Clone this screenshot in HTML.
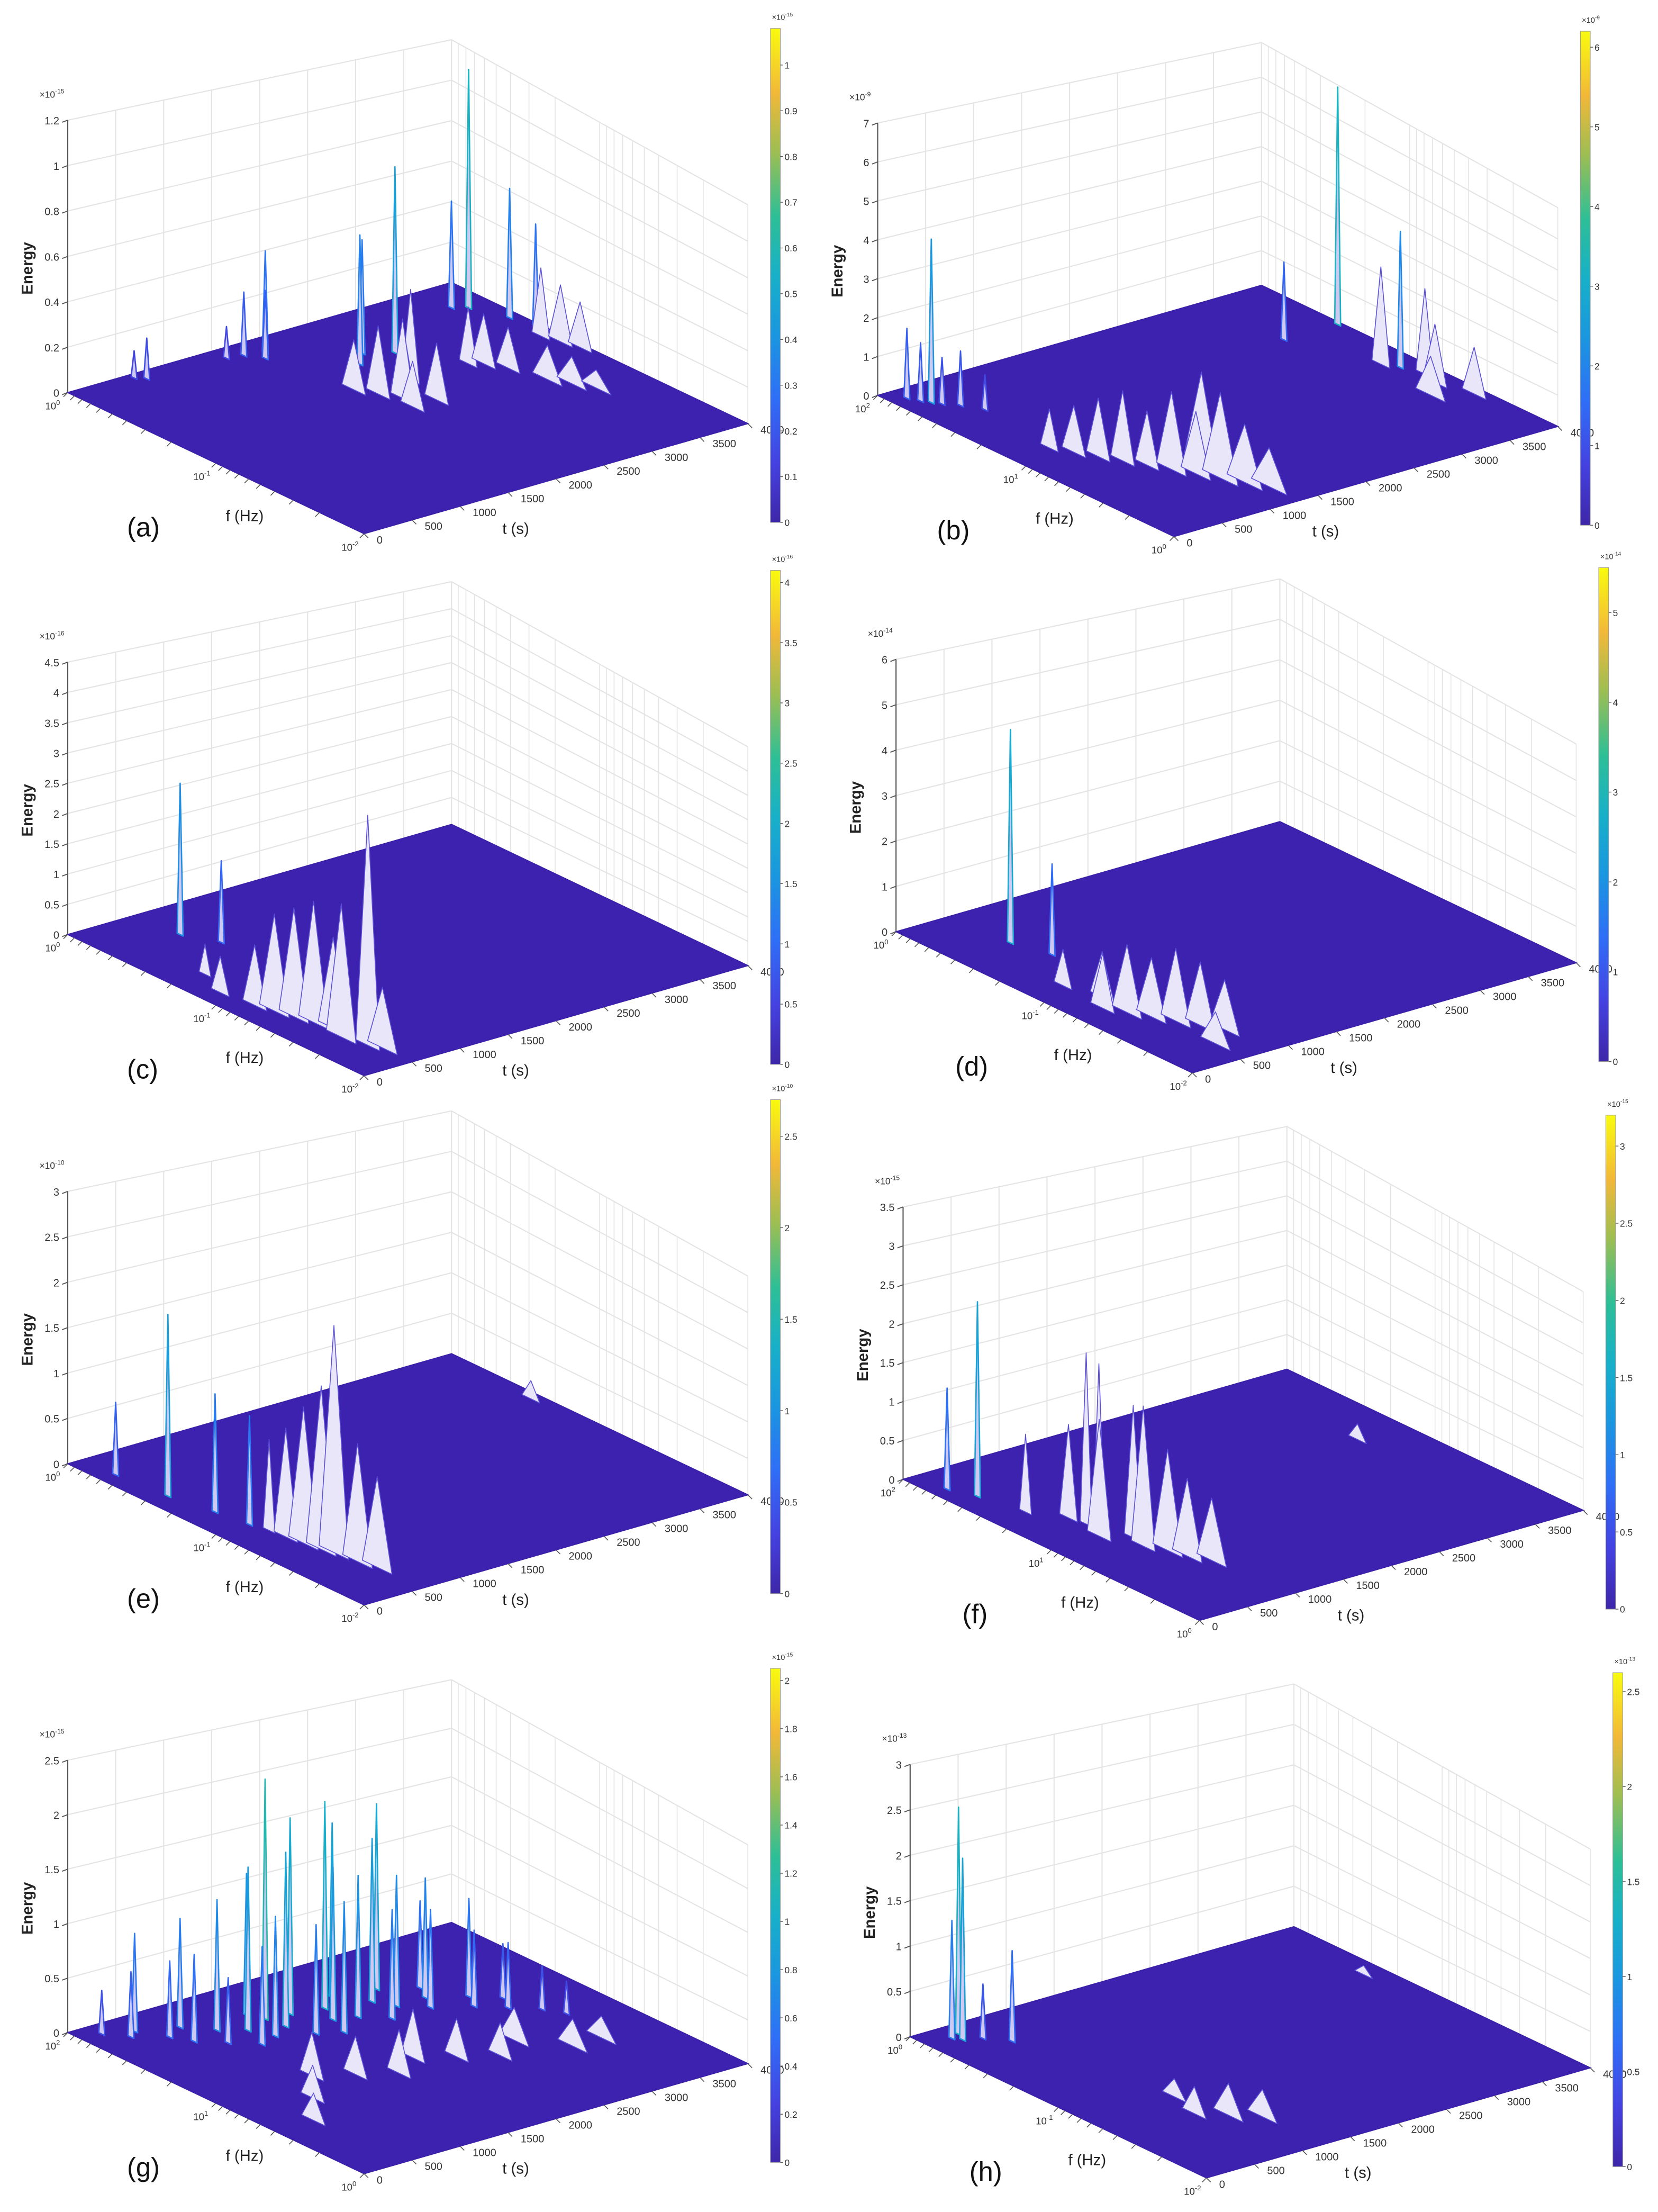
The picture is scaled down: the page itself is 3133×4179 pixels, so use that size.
<!DOCTYPE html>
<html><head><meta charset="utf-8"><title>Energy time-frequency surfaces</title>
<style>
html,body{margin:0;padding:0;background:#fff;}
svg{display:block;}
text{font-family:"Liberation Sans",sans-serif;}
</style></head>
<body>
<svg id="fig" xmlns="http://www.w3.org/2000/svg" width="3133" height="4179" viewBox="0 0 1175 1567">
<defs>
<linearGradient id="parula" x1="0" y1="1" x2="0" y2="0">
<stop offset="0" stop-color="#3e26a8"/><stop offset="0.12" stop-color="#4441e0"/>
<stop offset="0.25" stop-color="#2f6ef7"/><stop offset="0.38" stop-color="#1a97e0"/>
<stop offset="0.5" stop-color="#17b0c8"/><stop offset="0.62" stop-color="#2dbf96"/>
<stop offset="0.75" stop-color="#9dbe52"/><stop offset="0.87" stop-color="#f2b838"/>
<stop offset="1" stop-color="#f9fb0e"/>
</linearGradient>
</defs>
</svg>
<script>
// ---- data (t in s, f as log-fraction from first decade edge, E in axis units, W base width) ----
const panelIds = ['a','b','c','d','e','f','g','h'];
const zMaxes = [1.2, 7, 4.5, 6, 3, 3.5, 2.5, 3];
const zSteps = [0.2, 1, 0.5, 1, 0.5, 0.5, 0.5, 0.5];
const zExps = ['-15','-9','-16','-14','-10','-15','-15','-13'];
const cbMaxes = [1.08, 6.2, 4.1, 5.5, 2.7, 3.2, 2.05, 2.6];
const cbSteps = [0.1, 1, 0.5, 1, 0.5, 0.5, 0.2, 0.5];
const fDecades = [['0','-1','-2'],['2','1','0'],['0','-1','-2'],['0','-1','-2'],['0','-1','-2'],['2','1','0'],['2','1','0'],['0','-1','-2']];
const tTicks = [0,500,1000,1500,2000,2500,3000,3500,4000];

const spikeT = {
 a:[630,700,1824,1500,1650,1750,2285,2669,2450,3653,3764,3895,3950,2000,2100,2200,2050,2300,2400,1900,3100,3200,3000,3300,3400,3500,3850,3900,3950],
 b:[150,250,200,300,400,500,3400,3960,3780,3700,3850,3800,3600,3900,500,600,700,800,900,1000,1100,1200,1300,400,1150],
 c:[730,890,440,300,350,400,450,380,250,200,500,350],
 d:[590,700,300,400,500,600,700,800,450,350,550],
 e:[160,210,300,350,400,520,450,480,550,600,420,3900],
 f:[150,250,350,580,620,700,500,650,750,800,550,900,3500],
 g:[200,350,450,1470,600,700,800,900,1000,1100,1200,1300,1400,1500,1600,1700,1800,1900,2000,2100,2200,2300,2400,2500,2600,2700,2800,2900,3000,3100,3200,3300,3400,3500,1000,1300,1600,1900,2200,2500,2800,3100,3400,700,400],
 h:[300,350,250,600,450,800,1000,1200,900,3800]
};
const spikeF = {
 a:[.02,.04,.076,.05,.06,.10,.246,.24,.2,.112,.134,.23,.3,.40,.45,.42,.5,.5,.38,.35,.4,.45,.38,.55,.6,.65,.35,.4,.45],
 b:[.05,.1,.08,.12,.15,.2,.27,.27,.54,.5,.6,.65,.7,.75,.5,.55,.6,.65,.7,.75,.8,.85,.9,.45,.72],
 c:[.143,.23,.87,.6,.65,.7,.75,.8,.55,.45,.9,.35],
 d:[.195,.3,.6,.65,.7,.75,.8,.85,.55,.45,.9],
 e:[.11,.27,.4,.5,.55,.73,.65,.7,.8,.85,.6,.3],
 f:[.1,.17,.3,.43,.46,.55,.5,.6,.65,.7,.38,.75,.4],
 g:[.05,.1,.08,.19,.15,.2,.12,.25,.18,.3,.22,.28,.15,.25,.32,.2,.35,.28,.22,.3,.18,.35,.25,.3,.2,.35,.3,.25,.4,.35,.45,.4,.5,.55,.5,.55,.6,.55,.6,.65,.6,.7,.7,.6,.7],
 h:[.08,.05,.06,.15,.1,.7,.75,.8,.6,.3]
};
const spikeE = {
 a:[.12,.18,.45,.14,.28,.3,.57,.82,.5,.47,1.05,.57,.45,.3,.35,.28,.2,.25,.4,.22,.22,.18,.25,.15,.12,.08,.3,.25,.2],
 b:[1.8,4.2,1.5,1.2,1.4,.9,2.0,6.1,3.5,2.5,2.2,1.5,1.0,1.2,1.2,1.5,1.8,1.4,2.0,1.6,2.2,1.5,1.0,1.0,2.4],
 c:[2.5,1.35,3.8,1.6,1.8,2.0,1.5,2.2,1.0,.6,1.0,.5],
 d:[4.7,2.0,1.2,1.5,1.3,1.6,1.4,1.1,1.0,.8,.7],
 e:[.8,2.0,1.3,1.2,1.0,2.5,1.5,1.8,1.3,1.0,1.2,.2],
 f:[1.3,2.5,1.0,2.2,2.1,1.7,1.5,1.8,1.3,1.0,1.2,.8,.2],
 g:[.4,.6,.9,2.2,.7,.8,1.0,.6,1.2,.9,1.5,1.1,1.3,1.6,1.0,1.8,1.2,1.4,1.9,1.3,1.6,1.0,1.5,1.2,1.7,.9,1.1,.8,.7,.9,.6,.5,.4,.3,.4,.35,.4,.45,.35,.3,.3,.25,.2,.3,.25],
 h:[2.0,2.5,1.3,1.0,.6,.3,.35,.3,.2,.1]
};
const spikeW = {
 a:[.01,.01,.01,.01,.01,.01,.01,.01,.01,.01,.01,.01,.01,.04,.04,.04,.04,.04,.03,.04,.04,.04,.03,.05,.05,.05,.03,.04,.04],
 b:[.01,.01,.01,.01,.01,.01,.01,.01,.01,.03,.03,.04,.05,.04,.04,.04,.04,.04,.05,.05,.06,.06,.06,.03,.06],
 c:[.01,.01,.04,.05,.05,.05,.05,.05,.04,.03,.05,.02],
 d:[.01,.01,.04,.05,.05,.05,.05,.05,.04,.03,.05],
 e:[.01,.01,.01,.01,.02,.05,.05,.05,.05,.05,.04,.03],
 f:[.01,.01,.02,.02,.02,.03,.04,.04,.05,.05,.03,.05,.03],
 g:[.01,.01,.01,.01,.01,.01,.01,.01,.01,.01,.01,.01,.01,.01,.01,.01,.01,.01,.01,.01,.01,.01,.01,.01,.01,.01,.01,.01,.01,.01,.01,.01,.01,.01,.04,.04,.04,.04,.04,.04,.05,.05,.05,.04,.04],
 h:[.01,.01,.01,.01,.01,.04,.05,.05,.04,.03]
};

// ---- layout ----
const offsets = [[0,0],[574,2],[0,384],[587,382],[0,759],[592,770],[0,1162],[597,1165]];
const NS='http://www.w3.org/2000/svg';
const svg=document.getElementById('fig');
function mk(tag,attrs,parent){const e=document.createElementNS(NS,tag);for(const k in attrs)e.setAttribute(k,attrs[k]);(parent||svg).appendChild(e);return e;}
const stops=[[0,[62,38,168]],[.12,[68,65,224]],[.25,[47,110,247]],[.38,[26,151,224]],[.5,[23,176,200]],[.62,[45,191,150]],[.75,[157,190,82]],[.87,[242,184,56]],[1,[249,251,14]]];
function parula(v){v=Math.max(0,Math.min(1,v));for(let i=1;i<stops.length;i++){if(v<=stops[i][0]){const a=stops[i-1],b=stops[i];const u=(v-a[0])/(b[0]-a[0]);const c=a[1].map((x,j)=>Math.round(x+(b[1][j]-x)*u));return 'rgb('+c.join(',')+')';}}return 'rgb(249,251,14)';}
function fmt(v){return String(Math.round(v*100)/100);}
function supText(parent,x,y,base,exp,size,anchor,name){
  const t=mk('text',{x:x,y:y,'font-size':size,fill:'#333','text-anchor':anchor||'start'},parent);
  
  
  t.appendChild(document.createTextNode(base));
  const s=mk('tspan',{dy:-size*0.45,'font-size':size*0.7},t);s.textContent=exp;
  return t;
}

panelIds.forEach((id,pi)=>{
  const [ox,oy]=offsets[pi];
  const g=mk('g',{transform:'translate('+ox+','+oy+')'});
  
  
  const L=[48,278],F=[258,378],R=[530,300],B=[L[0]+R[0]-F[0],L[1]+R[1]-F[1]];
  const HL=193,HB=172,HR=155,zmax=zMaxes[pi];
  const lerp=(a,b,u)=>[a[0]+(b[0]-a[0])*u,a[1]+(b[1]-a[1])*u];
  const floorPt=(t,f)=>[L[0]+(F[0]-L[0])*f+(R[0]-F[0])*t/4000,L[1]+(F[1]-L[1])*f+(R[1]-F[1])*t/4000];
  const grid='#e4e4e4';
  const walls=mk('g',{},g);
  
  
  const zTicks=[];for(let z=0;z<=zmax+1e-9;z+=zSteps[pi])zTicks.push(z);
  zTicks.forEach(z=>{
    const u=z/zmax;
    mk('line',{x1:L[0],y1:L[1]-HL*u,x2:B[0],y2:B[1]-HB*u,stroke:grid,'stroke-width':0.8},walls);
    mk('line',{x1:B[0],y1:B[1]-HB*u,x2:R[0],y2:R[1]-HR*u,stroke:grid,'stroke-width':0.8},walls);
  });
  tTicks.forEach(t=>{const u=t/4000;const p=lerp(L,B,u);const h=HL+(HB-HL)*u;
    mk('line',{x1:p[0],y1:p[1],x2:p[0],y2:p[1]-h,stroke:grid,'stroke-width':0.8},walls);});
  const fvals=[];for(let d=0;d>=-2;d--){for(let k=1;k<=9;k++){const v=k*Math.pow(10,d-1);const fr=-(Math.log10(v))/2;if(fr>=0&&fr<=1)fvals.push(fr);}}
  fvals.push(0);
  fvals.forEach(fr=>{const p=lerp(B,R,fr);const h=HB+(HR-HB)*fr;
    mk('line',{x1:p[0],y1:p[1],x2:p[0],y2:p[1]-h,stroke:grid,'stroke-width':0.6},walls);});
  mk('line',{x1:L[0],y1:L[1],x2:L[0],y2:L[1]-HL,stroke:'#555','stroke-width':0.8},g);
  zTicks.forEach(z=>{const y=L[1]-HL*z/zmax;
    mk('line',{x1:L[0],y1:y,x2:L[0]-4,y2:y+1.5,stroke:'#555','stroke-width':0.7},g);
    const t=mk('text',{x:L[0]-6,y:y+3,'font-size':7.5,fill:'#333','text-anchor':'end'},g);
    
    
    t.textContent=fmt(z);});
  supText(g,L[0]-20,L[1]-HL-16,'\u00d710',zExps[pi],6.5,'start','z-exponent');
  const fl=mk('polygon',{points:[L,F,R,B].map(p=>p.join(',')).join(' '),fill:'#3d22b0',stroke:'#3a20a8','stroke-width':0.8},g);
  
  
  const T=spikeT[id],Fv=spikeF[id],E=spikeE[id],W=spikeW[id];
  const order=T.map((_,i)=>i).sort((a,b)=>floorPt(T[a],Fv[a])[1]-floorPt(T[b],Fv[b])[1]);
  const sg=mk('g',{},g);
  
  
  order.forEach(i=>{
    const p0=floorPt(T[i],Fv[i]-W[i]),p1=floorPt(T[i],Fv[i]+W[i]),pc=floorPt(T[i],Fv[i]);
    const h=HL*E[i]/zmax;
    const wide=W[i]>0.015;
    const col=wide?'#5b4fd6':parula(0.08+0.45*E[i]/cbMaxes[pi]);
    const el=mk('polygon',{points:p0.join(',')+' '+pc[0]+','+(pc[1]-h)+' '+p1.join(','),fill:wide?'#e9e6fa':'#cfc9f2',stroke:col,'stroke-width':wide?0.6:1.0,'stroke-linejoin':'round'},sg);
    
    
  });
  fvals.forEach(fr=>{const p=lerp(L,F,fr);
    mk('line',{x1:p[0],y1:p[1],x2:p[0]-3,y2:p[1]+3,stroke:'#555','stroke-width':0.6},g);});
  fDecades[pi].forEach((d,k)=>{const p=lerp(L,F,k/2);
    supText(g,p[0]-16,p[1]+12,'10',d,7,'start','f-tick-label');});
  tTicks.forEach(t=>{const p=lerp(F,R,t/4000);
    mk('line',{x1:p[0],y1:p[1],x2:p[0]+3,y2:p[1]+3,stroke:'#555','stroke-width':0.6},g);
    const tx=mk('text',{x:p[0]+9,y:p[1]+7,'font-size':7.5,fill:'#333','text-anchor':'start'},g);
    
    
    tx.textContent=t;});
  const fl2=mk('text',{x:160,y:369,'font-size':11,fill:'#222','font-family':'Liberation Serif, serif'},g);
  
  
  fl2.textContent='f (Hz)';
  const tl=mk('text',{x:356,y:378,'font-size':11,fill:'#222','font-family':'Liberation Serif, serif'},g);
  
  
  tl.textContent='t (s)';
  const en=mk('text',{x:0,y:0,'font-size':11,'font-weight':'bold',fill:'#222','font-family':'Liberation Serif, serif',transform:'translate(23,190) rotate(-90)','text-anchor':'middle'},g);
  
  
  en.textContent='Energy';
  const pl=mk('text',{x:90,y:380,'font-size':19,fill:'#111'},g);
  
  
  pl.textContent='('+id+')';
  const cb=mk('g',{},g);
  
  
  const cy0=20,cy1=370,cx=546;
  mk('rect',{x:cx,y:cy0,width:7,height:cy1-cy0,fill:'url(#parula)',stroke:'#999','stroke-width':0.4},cb);
  for(let v=0;v<=cbMaxes[pi]+1e-9;v+=cbSteps[pi]){
    const y=cy1-(cy1-cy0)*v/cbMaxes[pi];
    mk('line',{x1:cx+7,y1:y,x2:cx+9,y2:y,stroke:'#555','stroke-width':0.5},cb);
    const t=mk('text',{x:cx+10,y:y+2.5,'font-size':6.5,fill:'#333'},cb);
    
    
    t.textContent=fmt(v);
  }
  supText(cb,cx+1,cy0-6,'\u00d710',zExps[pi],5.5,'start','colorbar-exponent');
});
</script>
</body></html>
